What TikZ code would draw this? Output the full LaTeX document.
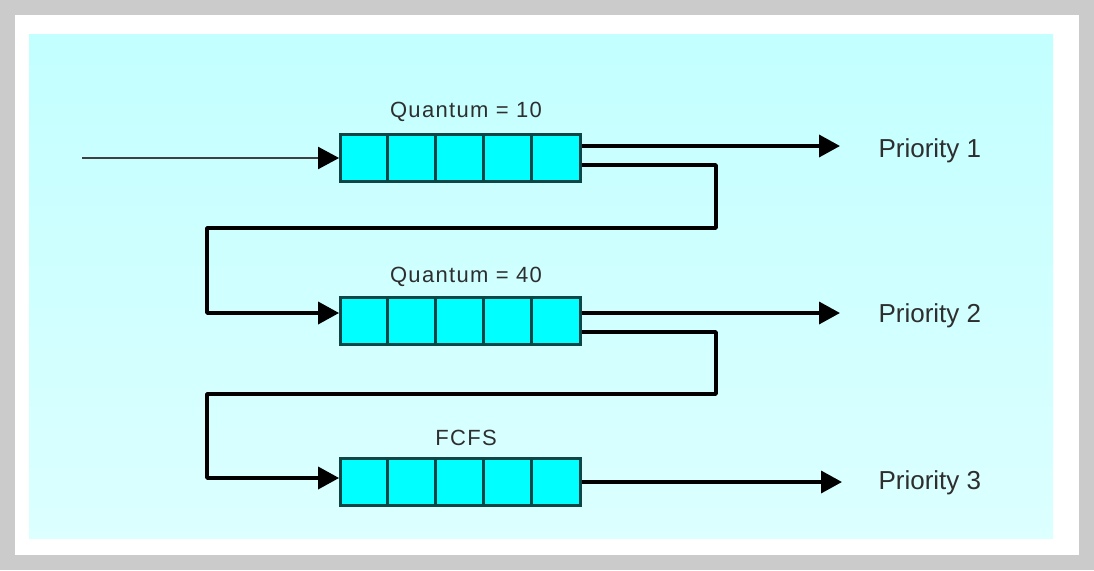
\documentclass[tikz,border=0pt]{standalone}
\usepackage{fontspec}
\setmainfont{Liberation Sans}
\newfontfamily\quantfont[LetterSpace=6]{Liberation Sans}
\usetikzlibrary{arrows.meta}
\definecolor{outer}{HTML}{CBCBCB}
\definecolor{skytop}{HTML}{C3FFFF}
\definecolor{skybot}{HTML}{DCFFFF}
\definecolor{qfill}{HTML}{00FFFF}
\definecolor{qedge}{HTML}{0D4646}
\definecolor{txt}{HTML}{2E2E2E}
\begin{document}
\begin{tikzpicture}[x=1pt,y=-1pt,
  queue/.style={rectangle,draw=qedge,fill=qfill,line width=2.8pt,minimum width=240pt,minimum height=47pt,inner sep=0pt},
  cell/.style={draw=qedge,line width=2.8pt},
  qlabel/.style={text=txt,font=\quantfont\fontsize{22}{25}\selectfont},
  prio/.style={text=txt,font=\fontsize{26}{30}\selectfont,anchor=west},
  flow/.style={line width=3.6pt,line join=round,-{Triangle[length=21pt,width=22pt]}},
  inflow/.style={line width=2.2pt,draw=black!75,-{Triangle[length=21pt,width=22pt,color=black]}}]

  % background and frame
  \fill[outer] (0,0) rectangle (1094,570);
  \fill[white] (15,15) rectangle (1079,555);
  \shade[top color=skytop,bottom color=skybot] (29,34) rectangle (1053,538);

  % the three queues
  \node[queue] (q1) at (460.5,158) {};
  \node[queue] (q2) at (460.5,321) {};
  \node[queue] (q3) at (460.5,482) {};
  \foreach \q in {q1,q2,q3}
    \foreach \i in {1,...,4}
      \draw[cell] ([xshift=\i*48pt]\q.north west) -- ([xshift=\i*48pt]\q.south west);

  \node[qlabel] (lab1) at (466,112) {Quantum = 10};
  \node[qlabel] (lab2) at (466,277) {Quantum = 40};
  \node[qlabel] (lab3) at (466,438) {FCFS};

  \node[prio] (pr1) at (875,151) {Priority 1};
  \node[prio] (pr2) at (875,316) {Priority 2};
  \node[prio] (pr3) at (875,483) {Priority 3};

  \coordinate (in) at (82,158);
  \coordinate (o1) at (840,146);
  \coordinate (o2) at (840,313);
  \coordinate (o3) at (842,482);
  \coordinate (k1) at (716,228);
  \coordinate (k2) at (207,228);
  \coordinate (k3) at (716,394);
  \coordinate (k4) at (207,394);

  \draw[inflow] (in) -- (q1.west);
  \draw[flow] (q1.east |- o1) -- (o1);
  \draw[flow] (q2.east |- o2) -- (o2);
  \draw[flow] (q3.east |- o3) -- (o3);
  \draw[flow] ([yshift=-7pt]q1.east) -| (k1) -- (k2) |- ([yshift=8pt]q2.west);
  \draw[flow] ([yshift=-11pt]q2.east) -| (k3) -- (k4) |- ([yshift=4pt]q3.west);
\end{tikzpicture}
\end{document}
